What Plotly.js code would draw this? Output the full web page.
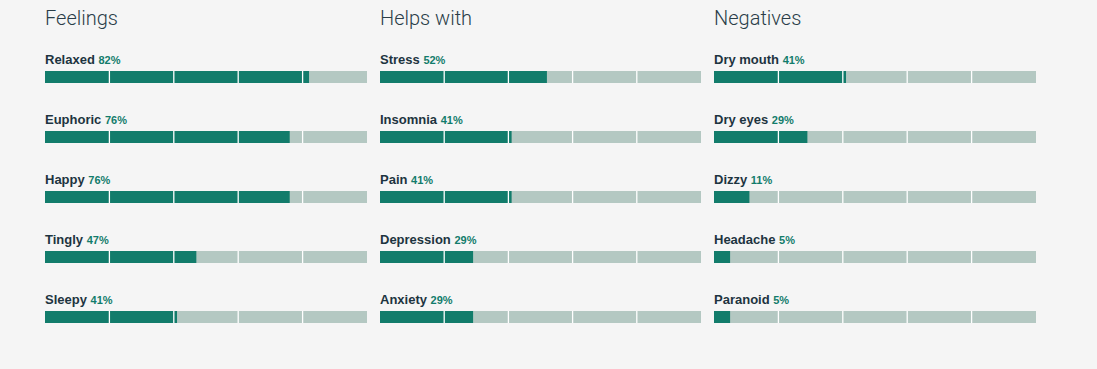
<!DOCTYPE html>
<html>
<head>
<meta charset="utf-8">
<script src="https://cdn.plot.ly/plotly-3.0.1.min.js"></script>
<style>html,body{margin:0;padding:0;background:#f5f5f5;}#chart{width:1097px;height:369px;}</style>
</head>
<body>
<div id="chart"></div>
<script>
const panelTitles = ["Feelings", "Helps with", "Negatives"];
const feelingsLabels = ["Relaxed", "Euphoric", "Happy", "Tingly", "Sleepy"];
const feelingsValues = [82, 76, 76, 47, 41];
const helpsLabels = ["Stress", "Insomnia", "Pain", "Depression", "Anxiety"];
const helpsValues = [52, 41, 41, 29, 29];
const negativesLabels = ["Dry mouth", "Dry eyes", "Dizzy", "Headache", "Paranoid"];
const negativesValues = [41, 29, 11, 5, 5];
const dividerTicks = [20, 40, 60, 80];
const fullScale = 100;

const panels = [
  {labels: feelingsLabels, values: feelingsValues},
  {labels: helpsLabels, values: helpsValues},
  {labels: negativesLabels, values: negativesValues}
];

const FILL = "#127c6b";
const TRACK = "#b4c8c2";
const DARK = "#1d3440";
const BG = "#f5f5f5";
const FONT = "'Liberation Sans', 'DejaVu Sans', sans-serif";

const W = 1097, mL = 45, mR = 61;
const plotW = W - mL - mR;
const colPx = [[45, 367], [380, 701], [714, 1036]];

const traces = [], annotations = [], shapes = [];
const layout = {
  width: 1097, height: 369,
  margin: {l: mL, r: mR, t: 47, b: 22, pad: 0},
  paper_bgcolor: BG, plot_bgcolor: BG,
  barmode: "overlay",
  showlegend: false,
  font: {family: FONT, color: DARK}
};

panels.forEach((p, k) => {
  const sfx = k === 0 ? "" : String(k + 1);
  const xa = "x" + sfx, ya = "y" + sfx;
  const d0 = (colPx[k][0] - mL) / plotW, d1 = (colPx[k][1] - mL) / plotW;
  layout["xaxis" + sfx] = {domain: [d0, d1], range: [0, fullScale], showgrid: false, zeroline: false,
    showticklabels: false, ticks: "", showline: false, fixedrange: true, anchor: ya};
  layout["yaxis" + sfx] = {type: "category", categoryorder: "array", categoryarray: p.labels,
    range: [4.5, -0.5], showgrid: false, zeroline: false, showticklabels: false, ticks: "",
    showline: false, fixedrange: true, anchor: xa};
  traces.push({type: "bar", orientation: "h", x: p.labels.map(() => fullScale), y: p.labels,
    xaxis: xa, yaxis: ya, width: 0.2, marker: {color: TRACK, line: {width: 0}}, hoverinfo: "skip"});
  traces.push({type: "bar", orientation: "h", x: p.values, y: p.labels,
    xaxis: xa, yaxis: ya, width: 0.2, marker: {color: FILL, line: {width: 0}}, hoverinfo: "skip"});
  p.labels.forEach((lab, i) => {
    annotations.push({xref: xa, yref: ya, x: 0, y: lab, xanchor: "left", yanchor: "bottom",
      yshift: 8, xshift: -2, showarrow: false, align: "left",
      text: "<b>" + lab + "</b> <span style='color:" + FILL + ";font-size:11px;font-weight:600'>" + p.values[i] + "%</span>",
      font: {family: FONT, size: 13, color: DARK}});
    dividerTicks.forEach(t => {
      shapes.push({type: "line", xref: xa, yref: ya, x0: t, x1: t, y0: i - 0.1, y1: i + 0.1,
        layer: "above", line: {color: "#ffffff", width: 1.3}});
    });
  });
  annotations.push({xref: "paper", yref: "paper", x: d0, y: 1, xanchor: "left", yanchor: "bottom",
    yshift: 15, xshift: -2, showarrow: false, text: panelTitles[k],
    font: {family: "Roboto, 'Open Sans', sans-serif", size: 20, color: "#2a3d48", weight: 300}});
});

layout.annotations = annotations;
layout.shapes = shapes;
Plotly.newPlot("chart", traces, layout, {displayModeBar: false, staticPlot: true});
</script>
</body>
</html>
